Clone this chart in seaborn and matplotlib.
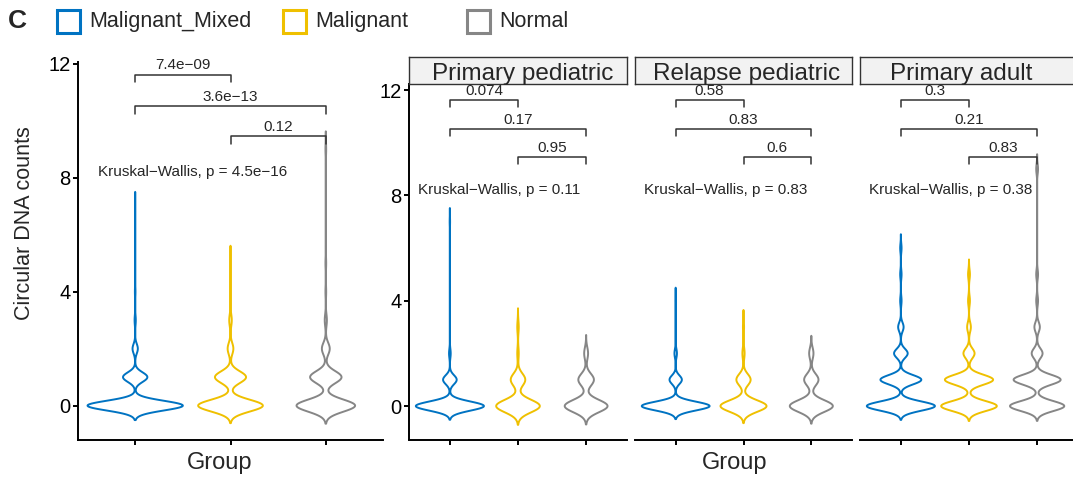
import numpy as np
import pandas as pd
import matplotlib
matplotlib.use("Agg")
import matplotlib.pyplot as plt
from matplotlib.patches import Rectangle
import seaborn as sns

# circular DNA count value -> number of samples with that value
levels = np.arange(10)
groups = ["Malignant_Mixed", "Malignant", "Normal"]
cohorts = ["Primary pediatric", "Relapse pediatric", "Primary adult"]
colors = ["#0073C2", "#EFC000", "#868686"]

ped_mixed = [165, 33, 4, 0, 0, 0, 0, 1, 0, 0]
ped_malig = [30, 10, 1, 1, 0, 0, 0, 0, 0, 0]
ped_normal = [22, 8, 2, 0, 0, 0, 0, 0, 0, 0]
rel_mixed = [110, 20, 4, 0, 1, 0, 0, 0, 0, 0]
rel_malig = [42, 13, 2, 1, 0, 0, 0, 0, 0, 0]
rel_normal = [30, 10, 3, 0, 0, 0, 0, 0, 0, 0]
adu_mixed = [50, 30, 10, 4, 1, 1, 1, 0, 0, 0]
adu_malig = [30, 26, 6, 2, 1, 1, 0, 0, 0, 0]
adu_normal = [30, 26, 6, 3, 1, 1, 0, 0, 0, 1]

# wilcoxon p-values on brackets (MM vs M, MM vs N, M vs N)
pairs = [(0, 1), (0, 2), (1, 2)]
all_pvals = ["7.4e\u221209", "3.6e\u221213", "0.12"]
ped_pvals = ["0.074", "0.17", "0.95"]
rel_pvals = ["0.58", "0.83", "0.6"]
adu_pvals = ["0.3", "0.21", "0.83"]
kw_all, kw_ped, kw_rel, kw_adu = "4.5e\u221216", "0.11", "0.83", "0.38"

series = {
    "Primary pediatric": [ped_mixed, ped_malig, ped_normal],
    "Relapse pediatric": [rel_mixed, rel_malig, rel_normal],
    "Primary adult": [adu_mixed, adu_malig, adu_normal],
}
frames = []
for cohort in cohorts:
    for g, counts in zip(groups, series[cohort]):
        vals = np.repeat(levels, counts)
        frames.append(pd.DataFrame({"cohort": cohort, "group": g, "count": vals}))
df = pd.concat(frames, ignore_index=True)


def nrd0(kde):
    # R's bw.nrd0 (ggplot2 geom_violin default bandwidth)
    x = np.ravel(kde.dataset)
    sd = x.std(ddof=1)
    q25, q75 = np.percentile(x, [25, 75])
    lo = min(sd, (q75 - q25) / 1.34) or sd
    return 0.9 * lo * len(x) ** -0.2 / sd


sns.set_style("ticks")
plt.rcParams["font.family"] = ["Liberation Sans", "DejaVu Sans"]

W, H = 1073, 478
fig = plt.figure(figsize=(W / 100, H / 100), dpi=100)
fig.patch.set_facecolor("white")


def box(x0, y0, x1, y1):
    return [x0 / W, 1 - y1 / H, (x1 - x0) / W, (y1 - y0) / H]


bracket_y = [11.63, 10.52, 9.46]


def draw_panel(ax, data, pvals, kw, kw_x, bw_adjust=1.0):
    sns.violinplot(data=data, x="group", y="count", hue="group", order=groups,
                   hue_order=groups, palette=colors, fill=False, inner=None,
                   linewidth=1.4, width=1.0, density_norm="area", common_norm=True,
                   bw_method=nrd0, bw_adjust=bw_adjust, cut=3, gridsize=512,
                   legend=False, ax=ax)
    for (i, j), p, yb in zip(pairs, pvals, bracket_y):
        ax.plot([i, i, j, j], [yb - 0.28, yb, yb, yb - 0.28], color="#333333", lw=1.1)
        ax.text((i + j) / 2, yb + 0.33, p, ha="center", va="center", fontsize=11)
    ax.text(kw_x, 8.2, f"Kruskal\u2212Wallis, p = {kw}", ha="left", va="center", fontsize=11)
    ax.set_xlim(-0.6, 2.6)
    ax.set_xticks([0, 1, 2])
    ax.set_xticklabels([])
    ax.set_xlabel("")
    ax.set_ylabel("")
    ax.set_yticks([0, 4, 8, 12])
    for s in ["top", "right"]:
        ax.spines[s].set_visible(False)
    for s in ["left", "bottom"]:
        ax.spines[s].set_linewidth(1.4)
        ax.spines[s].set_color("black")
    ax.tick_params(axis="both", length=3.5, width=1.4, color="black",
                   labelsize=14.5, labelcolor="black", pad=2)
    ax.set_facecolor("none")


# pooled panel
ax0 = fig.add_axes(box(78, 62, 383, 439.5))
draw_panel(ax0, df, all_pvals, kw_all, -0.39, 0.85)
ax0.set_ylim(-1.19, 12.07)

# faceted panels
panel_x = [(409, 627), (635, 852), (860, 1078)]
strip_text_x = [522.5, 747, 961.5]
facet_pvals = [ped_pvals, rel_pvals, adu_pvals]
facet_kw = [kw_ped, kw_rel, kw_adu]
facet_bw = [0.85, 0.85, 0.65]
for k, cohort in enumerate(cohorts):
    x0, x1 = panel_x[k]
    ax = fig.add_axes(box(x0, 84, x1, 439.5))
    draw_panel(ax, df[df["cohort"] == cohort], facet_pvals[k], facet_kw[k], -0.47, facet_bw[k])
    ax.set_ylim(-1.27, 12.23)
    if k > 0:
        ax.spines["left"].set_visible(False)
        ax.tick_params(axis="y", left=False, labelleft=False)
    strip = fig.add_axes(box(x0, 57, x1, 84))
    strip.set_facecolor("#F2F2F2")
    strip.set_xticks([])
    strip.set_yticks([])
    for s in strip.spines.values():
        s.set_linewidth(1.0)
        s.set_color("#333333")
    strip.text((strip_text_x[k] - x0) / (x1 - x0), 0.13, cohort, ha="center",
               va="baseline", fontsize=17.5, transform=strip.transAxes)

# axis titles
fig.text(25 / W, 1 - 223 / H, "Circular DNA counts", rotation=90, ha="center",
         va="center", fontsize=15.5)
fig.text(220 / W, 1 - 463 / H, "Group", ha="center", va="center", fontsize=17)
fig.text(735 / W, 1 - 463 / H, "Group", ha="center", va="center", fontsize=17)

# panel letter and legend
fig.text(8 / W, 1 - 28.5 / H, "C", ha="left", va="baseline", fontsize=19, fontweight="bold")
key_x = [57, 283, 467]
for g, c, kx in zip(groups, colors, key_x):
    fig.add_artist(Rectangle((kx / W, 1 - 33 / H), 23 / W, 23 / H, transform=fig.transFigure,
                             fill=False, edgecolor=c, lw=2.2))
    fig.text((kx + 32) / W, 1 - 21.5 / H, g, ha="left", va="center", fontsize=15.5)

fig.savefig("out.png", dpi=100, facecolor="white")
